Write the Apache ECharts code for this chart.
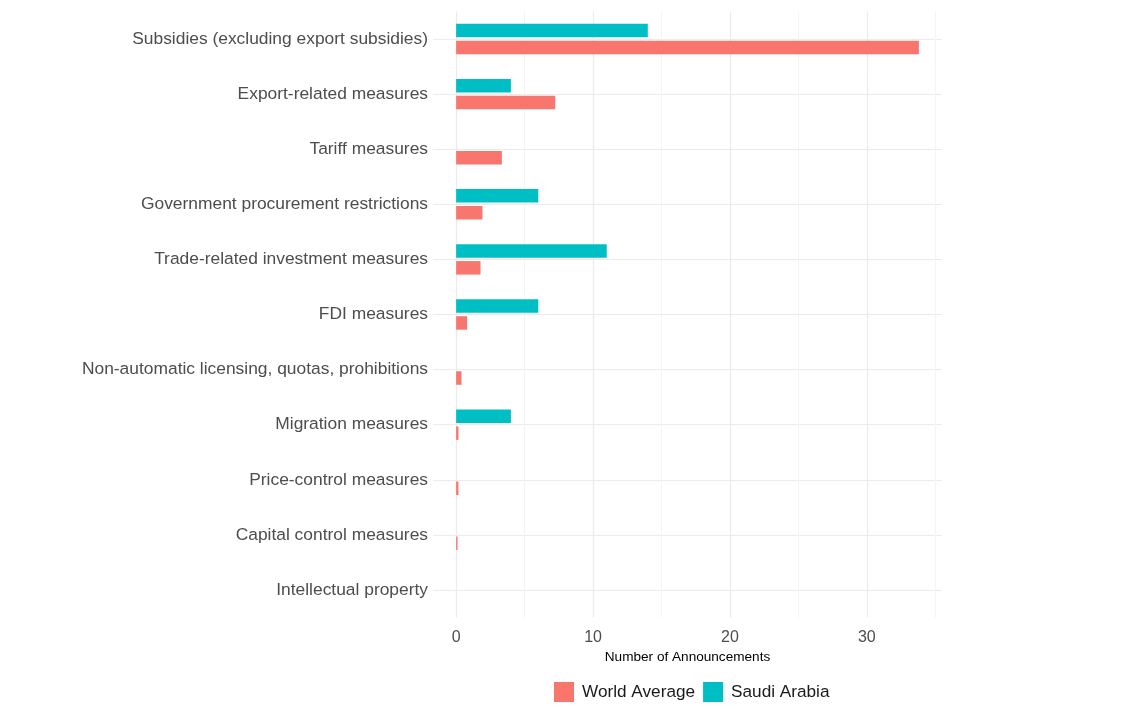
<!DOCTYPE html>
<html>
<head>
<meta charset="utf-8">
<script src="https://cdn.jsdelivr.net/npm/echarts@6/dist/echarts.min.js"></script>
<style>
  html, body { margin: 0; padding: 0; background: #fff; }
  #chart { width: 1126px; height: 709px; }
</style>
</head>
<body>
<div id="chart"></div>
<script>
// categories, top to bottom
const categories = [
  "Subsidies (excluding export subsidies)",
  "Export-related measures",
  "Tariff measures",
  "Government procurement restrictions",
  "Trade-related investment measures",
  "FDI measures",
  "Non-automatic licensing, quotas, prohibitions",
  "Migration measures",
  "Price-control measures",
  "Capital control measures",
  "Intellectual property"
];
const saudiArabia = [14, 4, 0, 6, 11, 6, 0, 4, 0, 0, 0];
const worldAverage = [33.8, 7.24, 3.34, 1.92, 1.78, 0.8, 0.39, 0.17, 0.17, 0.1, 0];
const majorTicks = [0, 10, 20, 30];
const minorTicks = [5, 15, 25, 35];

// ggplot-like 5% expansion of the value range
const xMax = Math.max(...worldAverage, ...saudiArabia);
const xMin = 0;
const pad = (xMax - xMin) * 0.05;

const chart = echarts.init(document.getElementById("chart"));
const font = "Liberation Sans, Arial, sans-serif";

const option = {
  backgroundColor: "#ffffff",
  textStyle: { fontFamily: font },
  animation: false,
  grid: { left: 433, right: 184, top: 11.45, bottom: 91.45, containLabel: false },
  legend: {
    data: ["World Average", "Saudi Arabia"],
    left: 549,
    top: 677,
    itemWidth: 20,
    itemHeight: 20,
    itemGap: 8,
    icon: "rect",
    textStyle: { fontSize: 17.2, color: "#1a1a1a", fontFamily: font, padding: [0, 0, 0, 3] }
  },
  xAxis: [
    {
      type: "value",
      min: xMin - pad,
      max: xMax + pad,
      name: "Number of Announcements",
      nameLocation: "middle",
      nameGap: 30,
      nameTextStyle: { fontSize: 13.6, color: "#000", fontFamily: font },
      axisLine: { show: false },
      axisTick: { show: false, customValues: majorTicks },
      axisLabel: { customValues: majorTicks, fontSize: 16, color: "#4d4d4d", margin: 12 },
      splitLine: { show: true, lineStyle: { color: "#ebebeb", width: 1.2 } }
    },
    {
      type: "value",
      position: "bottom",
      min: xMin - pad,
      max: xMax + pad,
      axisLine: { show: false },
      axisTick: { show: false, customValues: minorTicks },
      axisLabel: { show: false },
      splitLine: { show: true, lineStyle: { color: "#f4f4f4", width: 1 } }
    }
  ],
  yAxis: [
    {
      type: "category",
      data: categories,
      inverse: true,
      axisLine: { show: false },
      axisTick: { show: false },
      splitLine: { show: false },
      axisLabel: { fontSize: 17.4, color: "#4d4d4d", margin: 5, padding: [4, 0, 0, 0] }
    },
    {
      // hidden helper axis: horizontal grid lines through each category centre
      type: "value",
      min: 0.5,
      max: categories.length + 0.5,
      inverse: true,
      axisLine: { show: false },
      axisTick: { show: false, customValues: categories.map((c, i) => i + 1) },
      axisLabel: { show: false },
      splitLine: { show: true, lineStyle: { color: "#ebebeb", width: 1.2 } }
    }
  ],
  series: [
    {
      name: "Saudi Arabia",
      type: "bar",
      data: saudiArabia,
      barWidth: 13.5,
      barGap: "25%",
      itemStyle: { color: "#00BFC4" }
    },
    {
      name: "World Average",
      type: "bar",
      data: worldAverage,
      barWidth: 13.5,
      barGap: "25%",
      itemStyle: { color: "#F8766D" }
    }
  ]
};

chart.setOption(option);
</script>
</body>
</html>
